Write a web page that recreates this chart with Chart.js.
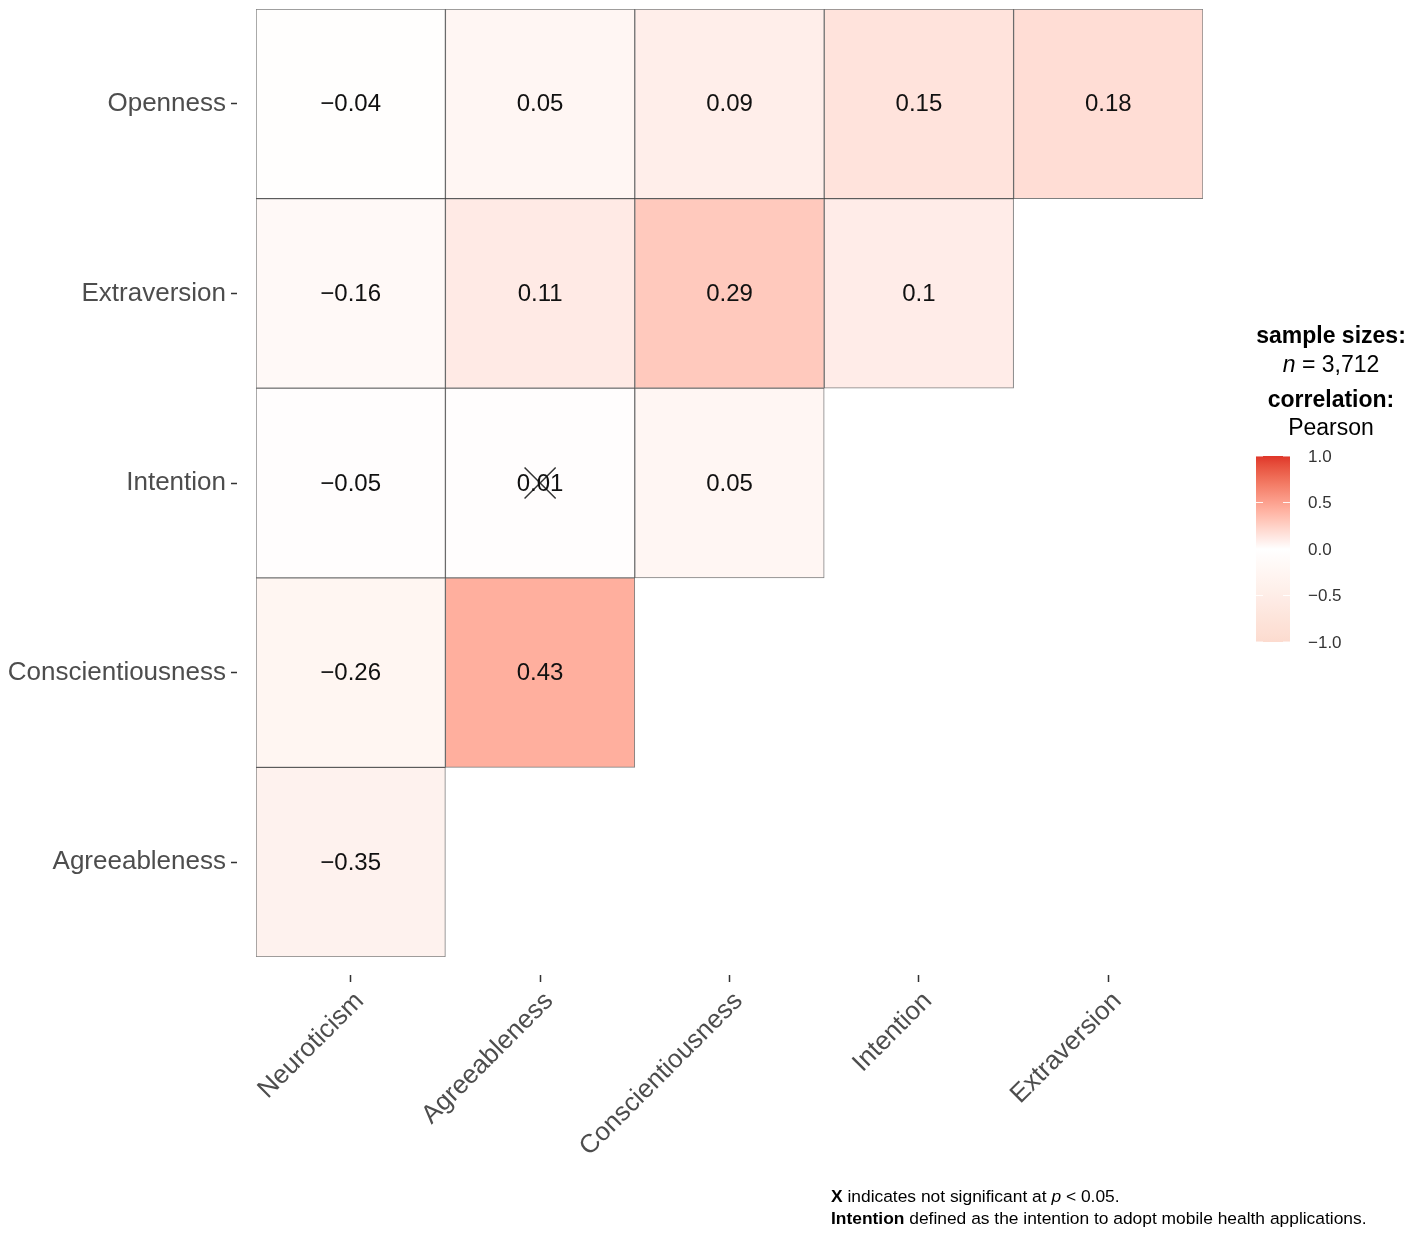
<!DOCTYPE html>
<html>
<head>
<meta charset="utf-8">
<script src="https://cdn.jsdelivr.net/npm/chart.js@4.4.1/dist/chart.umd.min.js"></script>
<style>
  html, body { margin: 0; padding: 0; background: #fff; }
  #wrap { width: 1417px; height: 1236px; position: relative; }
</style>
</head>
<body>
<div id="wrap"><canvas id="corrChart"></canvas></div>
<script>
// columns (x) and rows (y, top to bottom)
var columns = ['Neuroticism', 'Agreeableness', 'Conscientiousness', 'Intention', 'Extraversion'];
var rows = ['Openness', 'Extraversion', 'Intention', 'Conscientiousness', 'Agreeableness'];

// correlations per row, one value per column (null = not shown)
var opennessR = [-0.04, 0.05, 0.09, 0.15, 0.18];
var extraversionR = [-0.16, 0.11, 0.29, 0.10, null];
var intentionR = [-0.05, 0.01, 0.05, null, null];
var conscientiousnessR = [-0.26, 0.43, null, null, null];
var agreeablenessR = [-0.35, null, null, null, null];
var rowValues = [opennessR, extraversionR, intentionR, conscientiousnessR, agreeablenessR];

// not significant cells
var nsRows = ['Intention'];
var nsCols = ['Agreeableness'];

var legendTicks = [1.0, 0.5, 0.0, -0.5, -1.0];
var sampleSize = '3,712';

// colour scale: low -> white -> high, interpolated in Lab like scale_fill_gradient2
var lowCol = '#fcdbcf', midCol = '#ffffff', highCol = '#df3629';

function hexToRgb(h) {
    return [parseInt(h.substr(1, 2), 16), parseInt(h.substr(3, 2), 16), parseInt(h.substr(5, 2), 16)];
}
function rgbToLab(c) {
    var l = c.map(function (v) {
        v = v / 255;
        return v <= 0.04045 ? v / 12.92 : Math.pow((v + 0.055) / 1.055, 2.4);
    });
    var x = (l[0] * 0.4124 + l[1] * 0.3576 + l[2] * 0.1805) / 0.95047;
    var y = (l[0] * 0.2126 + l[1] * 0.7152 + l[2] * 0.0722);
    var z = (l[0] * 0.0193 + l[1] * 0.1192 + l[2] * 0.9505) / 1.08883;
    var f = function (t) { return t > 0.008856 ? Math.cbrt(t) : 7.787 * t + 16 / 116; };
    return [116 * f(y) - 16, 500 * (f(x) - f(y)), 200 * (f(y) - f(z))];
}
function labToRgb(lab) {
    var fy = (lab[0] + 16) / 116, fx = fy + lab[1] / 500, fz = fy - lab[2] / 200;
    var inv = function (t) { return t * t * t > 0.008856 ? t * t * t : (t - 16 / 116) / 7.787; };
    var x = inv(fx) * 0.95047, y = inv(fy), z = inv(fz) * 1.08883;
    var r = x * 3.2406 + y * -1.5372 + z * -0.4986;
    var g = x * -0.9689 + y * 1.8758 + z * 0.0415;
    var b = x * 0.0557 + y * -0.2040 + z * 1.0570;
    return [r, g, b].map(function (v) {
        v = v <= 0.0031308 ? 12.92 * v : 1.055 * Math.pow(v, 1 / 2.4) - 0.055;
        return Math.max(0, Math.min(255, Math.round(v * 255)));
    });
}
function corrColor(v) {
    var a = rgbToLab(hexToRgb(midCol));
    var b = rgbToLab(hexToRgb(v >= 0 ? highCol : lowCol));
    var t = Math.min(1, Math.abs(v));
    var c = labToRgb([0, 1, 2].map(function (i) { return a[i] + (b[i] - a[i]) * t; }));
    return 'rgb(' + c.join(',') + ')';
}
function fmt(v) {
    return (v < 0 ? '\u2212' : '') + String(Math.abs(v));
}

var FONT = "'Liberation Sans', Arial, Helvetica, sans-serif";
Chart.defaults.font.family = FONT;

var datasets = rowValues.map(function (vals, r) {
    return {
        type: 'bar',
        label: rows[r],
        corr: vals,
        data: vals.map(function (v) { return v === null ? null : [r - 0.5, r + 0.5]; }),
        backgroundColor: vals.map(function (v) { return v === null ? 'rgba(0,0,0,0)' : corrColor(v); }),
        borderColor: 'rgba(0,0,0,0.5)',
        borderWidth: 1,
        borderSkipped: false,
        grouped: false,
        barPercentage: 1,
        categoryPercentage: 1,
        order: 2
    };
});

datasets.push({
    type: 'line',
    label: 'not significant',
    data: columns.map(function (c) {
        var k = nsCols.indexOf(c);
        return k < 0 ? null : rows.indexOf(nsRows[k]);
    }),
    showLine: false,
    pointStyle: 'crossRot',
    pointRadius: 22,
    pointBorderColor: '#333333',
    pointBorderWidth: 1.5,
    order: 0
});

var cellLabels = {
    id: 'cellLabels',
    afterDatasetsDraw: function (chart) {
        var ctx = chart.ctx;
        ctx.save();
        ctx.font = '24px ' + FONT;
        ctx.fillStyle = '#111';
        ctx.textAlign = 'center';
        ctx.textBaseline = 'middle';
        chart.data.datasets.forEach(function (ds, i) {
            if (!ds.corr) return;
            var meta = chart.getDatasetMeta(i);
            ds.corr.forEach(function (v, j) {
                if (v === null) return;
                var el = meta.data[j];
                ctx.fillText(fmt(v), el.x, (el.y + el.base) / 2 + 1);
            });
        });
        ctx.restore();
    }
};

function drawRich(ctx, parts, x, y, align) {
    var total = 0;
    parts.forEach(function (p) { ctx.font = p.f; total += ctx.measureText(p.t).width; });
    var cx = align === 'center' ? x - total / 2 : x;
    ctx.textAlign = 'left';
    parts.forEach(function (p) {
        ctx.font = p.f;
        ctx.fillText(p.t, cx, y);
        cx += ctx.measureText(p.t).width;
    });
}

var sideLegend = {
    id: 'sideLegend',
    afterDraw: function (chart) {
        var ctx = chart.ctx;
        ctx.save();
        ctx.fillStyle = '#000';
        ctx.textBaseline = 'middle';
        var cx = 1331;
        drawRich(ctx, [{ t: 'sample sizes:', f: 'bold 23px ' + FONT }], cx, 337, 'center');
        drawRich(ctx, [{ t: 'n', f: 'italic 23px ' + FONT }, { t: ' = ' + sampleSize, f: '23px ' + FONT }], cx, 366, 'center');
        drawRich(ctx, [{ t: 'correlation:', f: 'bold 23px ' + FONT }], cx, 401, 'center');
        drawRich(ctx, [{ t: 'Pearson', f: '23px ' + FONT }], cx, 429, 'center');

        // colour bar
        var bx = 1256, bw = 34, top = 456, bot = 642;
        var grad = ctx.createLinearGradient(0, top, 0, bot);
        for (var k = 0; k <= 20; k++) {
            var v = 1 - k / 10;
            grad.addColorStop(k / 20, corrColor(v));
        }
        ctx.fillStyle = grad;
        ctx.fillRect(bx, top, bw, bot - top);
        ctx.font = '17px ' + FONT;
        ctx.textAlign = 'left';
        legendTicks.forEach(function (t) {
            var y = top + (1 - t) / 2 * (bot - top);
            ctx.strokeStyle = 'rgba(255,255,255,0.9)';
            ctx.lineWidth = 1;
            ctx.beginPath();
            ctx.moveTo(bx, y); ctx.lineTo(bx + 7, y);
            ctx.moveTo(bx + bw - 7, y); ctx.lineTo(bx + bw, y);
            ctx.stroke();
            ctx.fillStyle = '#333';
            ctx.fillText((t < 0 ? '\u2212' : '') + Math.abs(t).toFixed(1), 1308, y + 1);
        });

        // caption
        ctx.fillStyle = '#000';
        drawRich(ctx, [
            { t: 'X', f: 'bold 17.4px ' + FONT },
            { t: ' indicates not significant at ', f: '17.4px ' + FONT },
            { t: 'p', f: 'italic 17.4px ' + FONT },
            { t: ' < 0.05.', f: '17.4px ' + FONT }
        ], 831, 1197, 'left');
        drawRich(ctx, [
            { t: 'Intention', f: 'bold 17.4px ' + FONT },
            { t: ' defined as the intention to adopt mobile health applications.', f: '17.4px ' + FONT }
        ], 831, 1219, 'left');
        ctx.restore();
    }
};

new Chart(document.getElementById('corrChart'), {
    type: 'bar',
    data: { labels: columns, datasets: datasets },
    options: {
        responsive: true,
        maintainAspectRatio: false,
        animation: false,
        layout: { autoPadding: false, padding: { top: 9, right: 214, left: 0, bottom: 0 } },
        plugins: { legend: { display: false }, tooltip: { enabled: false } },
        scales: {
            x: {
                type: 'category',
                offset: true,
                border: { display: false },
                grid: {
                    offset: false,
                    drawOnChartArea: false,
                    tickLength: 25,
                    tickColor: '#333',
                    tickWidth: 1.5,
                    tickBorderDash: [0, 18, 7, 100]
                },
                ticks: {
                    autoSkip: false,
                    minRotation: 45,
                    maxRotation: 45,
                    padding: 4,
                    labelOffset: 9,
                    color: '#4d4d4d',
                    font: { size: 26 }
                },
                afterFit: function (s) { s.height = 279; }
            },
            y: {
                type: 'linear',
                reverse: true,
                min: -0.5,
                max: 4.5,
                border: { display: false },
                grid: {
                    drawOnChartArea: false,
                    tickLength: 25,
                    tickColor: '#333',
                    tickWidth: 1.5,
                    tickBorderDash: [6, 100]
                },
                afterBuildTicks: function (s) {
                    s.ticks = rows.map(function (r, i) { return { value: i }; });
                },
                ticks: {
                    padding: 5,
                    color: '#4d4d4d',
                    font: { size: 26, lineHeight: 0.2 },
                    callback: function (v) { return rows[v]; }
                },
                afterFit: function (s) { s.width = 256; }
            }
        }
    },
    plugins: [cellLabels, sideLegend]
});
</script>
</body>
</html>
